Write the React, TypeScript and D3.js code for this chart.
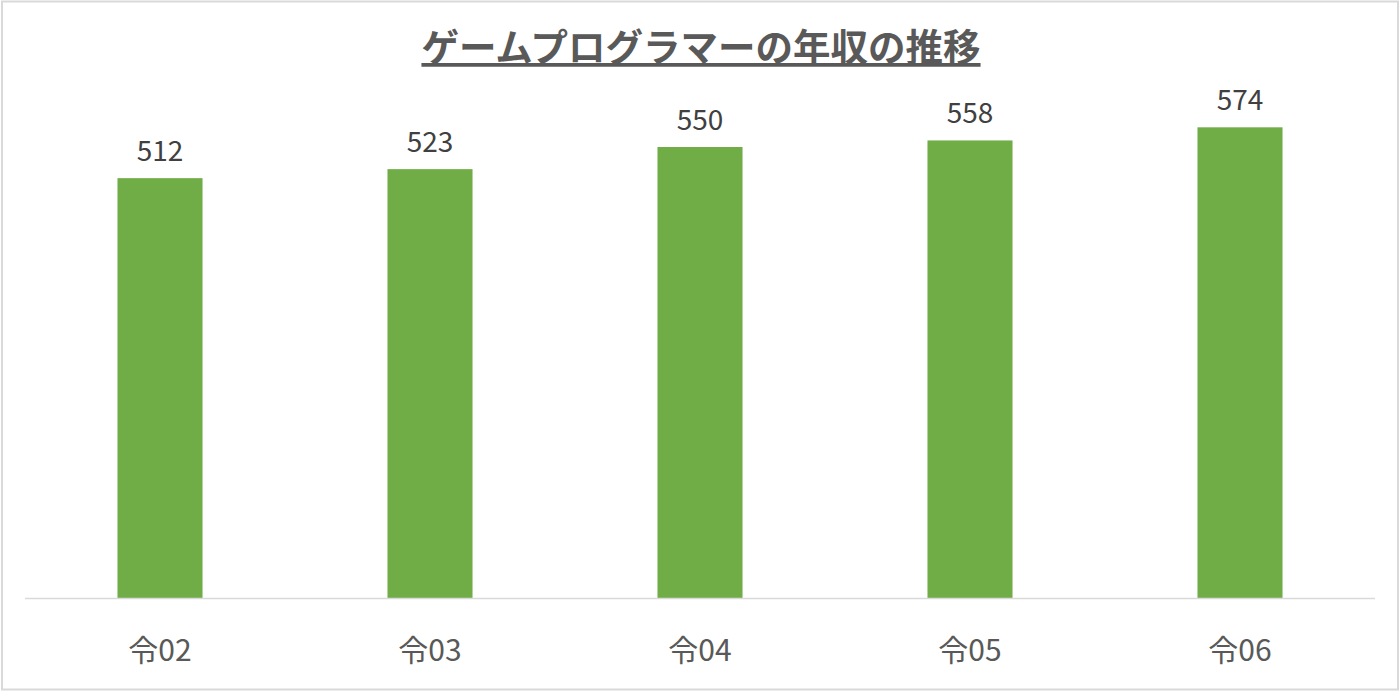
import * as d3 from "d3";

const categories = ["令02", "令03", "令04", "令05", "令06"];
const salaries = [512, 523, 550, 558, 574];
const title = "ゲームプログラマーの年収の推移";

const W = 1400;
const H = 691;
const plot = { left: 25, right: 1375, top: 24, bottom: 598 };
const font = "'Noto Sans CJK JP', 'Noto Sans', sans-serif";

export default function App() {
  const x = d3
    .scaleBand<string>()
    .domain(categories)
    .range([plot.left, plot.right])
    .paddingInner(0.685)
    .paddingOuter(0.3425);
  const y = d3.scaleLinear().domain([0, 700]).range([plot.bottom, plot.top]);

  return (
    <svg
      width={W}
      height={H}
      style={{ position: "absolute", left: 0, top: 0, background: "#fff" }}
    >
      <rect x={2} y={1.5} width={W - 4} height={H - 3} fill="#fff" stroke="#d9d9d9" strokeWidth={2} />
      <text
        x={701}
        y={61}
        textAnchor="middle"
        fontFamily={font}
        fontWeight="bold"
        fontSize={37.5}
        fill="#595959"
        textDecoration="underline"
      >
        {title}
      </text>
      {categories.map((c, i) => (
        <g key={c}>
          <rect
            x={x(c)}
            y={y(salaries[i])}
            width={x.bandwidth()}
            height={y(0) - y(salaries[i])}
            fill="#70ad47"
          />
          <text
            x={(x(c) ?? 0) + x.bandwidth() / 2}
            y={y(salaries[i]) - 17}
            textAnchor="middle"
            fontFamily={font}
            fontSize={28}
            fill="#404040"
          >
            {salaries[i]}
          </text>
          <text
            x={(x(c) ?? 0) + x.bandwidth() / 2}
            y={661}
            textAnchor="middle"
            fontFamily={font}
            fontSize={30}
            fill="#595959"
          >
            {c}
          </text>
        </g>
      ))}
      <line x1={plot.left} x2={plot.right} y1={y(0) + 0.5} y2={y(0) + 0.5} stroke="#d9d9d9" strokeWidth={1.5} />
    </svg>
  );
}
